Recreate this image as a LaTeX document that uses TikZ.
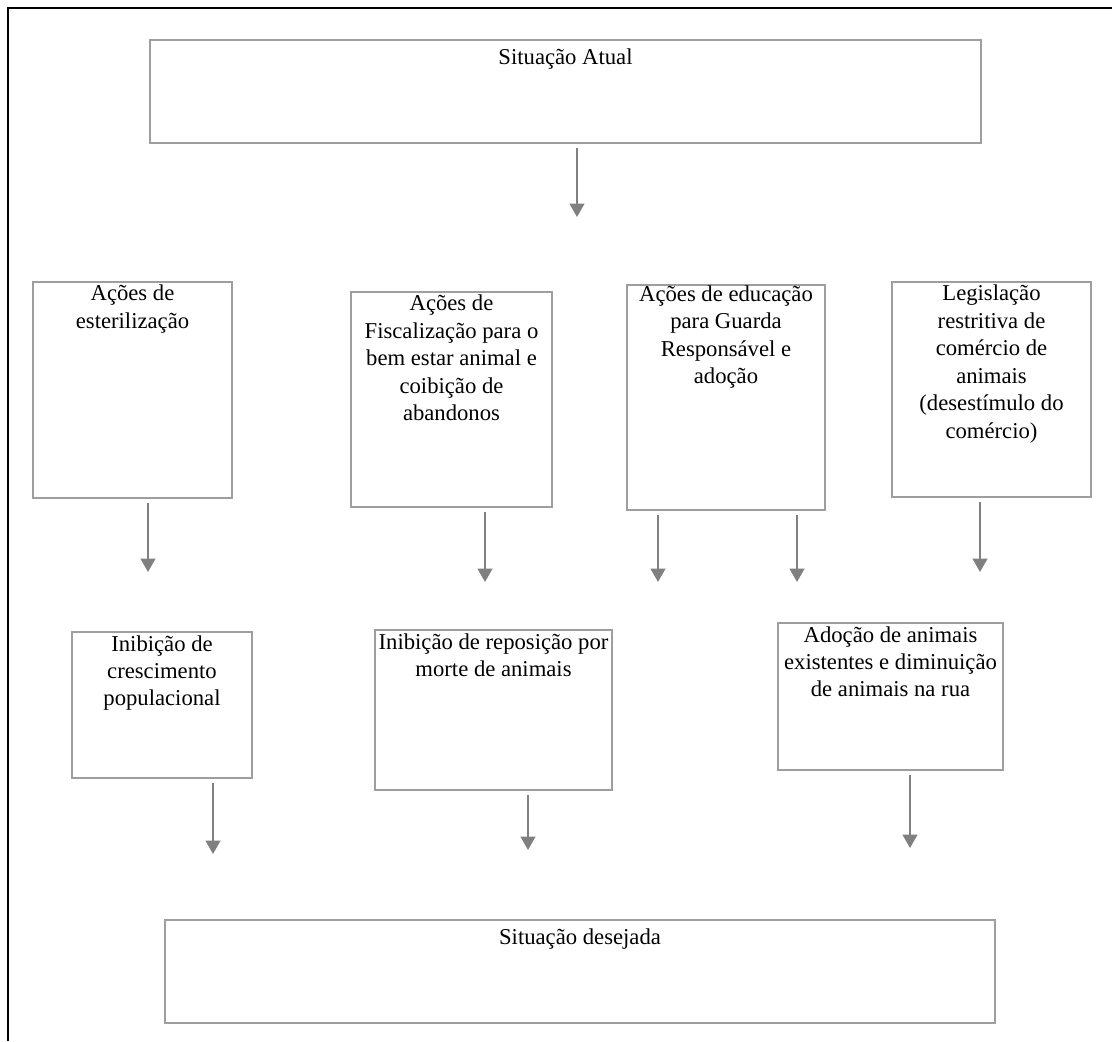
\documentclass[tikz,border=0pt]{standalone}
\usepackage{fontspec}
\setmainfont{Liberation Serif}
\usetikzlibrary{arrows.meta,positioning}
\definecolor{boxgray}{RGB}{158,158,158}
\definecolor{arrowgray}{RGB}{128,128,128}

\begin{document}
\begin{tikzpicture}[x=0.75pt, y=-0.75pt,
  box/.style={draw=boxgray, line width=1.5pt, rectangle, inner sep=0pt},
  size/.style 2 args={minimum width=#1*0.75pt, minimum height=#2*0.75pt},
  lbl/.style={anchor=north, align=center, inner sep=3pt, font=\fontsize{17}{20.6}\selectfont},
  flow/.style={-{Triangle[width=11pt,length=10pt]}, draw=arrowgray, line width=1.5pt, shorten <=3pt}]
  \useasboundingbox (0,0) rectangle (1112,1041);
  \draw[line width=1.7pt] (8,1041) -- (8,8) -- (1112,8);

  % situacao atual
  \node[box, size={831}{103}, label={[lbl, yshift=-4pt]north:Situação Atual}] (atual) at (565.5,91.5) {};

  % acoes
  \node[box, size={199}{216}, label={[lbl]north:Ações de\\esterilização}] (esterilizacao) at (132.5,390) {};
  \node[box, size={201}{215}, label={[lbl]north:Ações de\\Fiscalização para o\\bem estar animal e\\coibição de\\abandonos}] (fiscalizacao) at (451.5,399.5) {};
  \node[box, size={198}{225}, label={[lbl, inner sep=1pt]north:Ações de educação\\para Guarda\\Responsável e\\adoção}] (educacao) at (726,397.5) {};
  \node[box, size={199}{215}, label={[lbl]north:Legislação\\restritiva de\\comércio de\\animais\\(desestímulo do\\comércio)}] (legislacao) at (991.5,389.5) {};

  % resultados
  \node[box, size={180}{146}, label={[lbl]north:Inibição de\\crescimento\\populacional}] (crescimento) at (162,705) {};
  \node[box, size={237}{160}, label={[lbl]north:Inibição de reposição por\\morte de animais}] (reposicao) at (493.5,710) {};
  \node[box, size={225}{147}, label={[lbl]north:Adoção de animais\\existentes e diminuição\\de animais na rua}] (adocao) at (890.5,696.5) {};

  % situacao desejada
  \node[box, size={830}{103}, label={[lbl, yshift=-4pt]north:Situação desejada}] (desejada) at (580,971.5) {};

  % pontas das setas
  \coordinate (t0) at (577,217);
  \coordinate (t1) at (148,572);
  \coordinate (t2) at (485,582);
  \coordinate (t3) at (658,582);
  \coordinate (t4) at (797,582);
  \coordinate (t5) at (980,572);
  \coordinate (t6) at (213,854);
  \coordinate (t7) at (528,850);
  \coordinate (t8) at (910,848);

  \foreach \src/\tip in {atual/t0, esterilizacao/t1, fiscalizacao/t2, educacao/t3, educacao/t4, legislacao/t5, crescimento/t6, reposicao/t7, adocao/t8}
    \draw[flow] (\src.south -| \tip) -- (\tip);
\end{tikzpicture}
\end{document}
